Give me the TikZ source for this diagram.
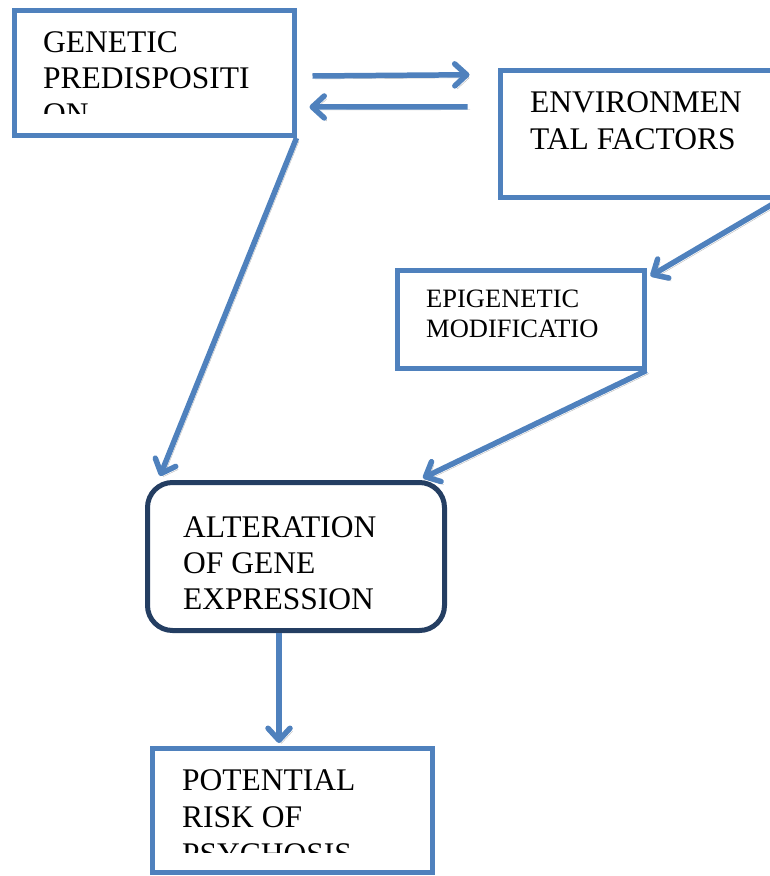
\documentclass[tikz,border=0pt]{standalone}
\usepackage{fontspec}
\setmainfont{Liberation Serif}
\usetikzlibrary{arrows.meta,calc}
\definecolor{boxblue}{RGB}{79,129,189}
\definecolor{navy}{RGB}{36,62,98}
\definecolor{shade}{RGB}{185,185,185}
\begin{document}
\begin{tikzpicture}[x=1pt,y=-1pt,
  box/.style={draw=boxblue, line width=5pt, fill=white, inner sep=0pt, rectangle},
  rbox/.style={draw=navy, line width=5pt, fill=white, rounded corners=25pt, inner sep=0pt, rectangle},
  big/.style={font=\fontsize{31.5}{36}\selectfont, anchor=base west, inner sep=0pt},
  small/.style={font=\fontsize{26.5}{30}\selectfont, anchor=base west, inner sep=0pt},
  arr/.style={draw=boxblue, line width=5.5pt, -{Straight Barb[round,length=12pt,width=22pt]},
    preaction={draw=shade, transform canvas={shift={(2.5pt,-3pt)}}}}]
\useasboundingbox (0,0) rectangle (769,876);
% boxes
\node[box, minimum width=279.5pt, minimum height=125pt] (gen) at (154.25,73) {};
\node[box, minimum width=278pt, minimum height=126.5pt] (env) at (639,133.75) {};
\node[box, minimum width=246.5pt, minimum height=97.5pt] (epi) at (520.75,319.25) {};
\node[rbox, minimum width=297pt, minimum height=148pt] (alt) at (296,556.5) {};
\node[box, minimum width=280pt, minimum height=124pt] (pot) at (292.5,810.5) {};
% texts
\node[big] (g1) at (43,52) {GENETIC};
\node[big] (g2) at (43,88) {PREDISPOSITI};
\begin{scope}
  \clip (20,90) rectangle (290,113);
  \node[big] (g3) at (43,124) {ON};
\end{scope}
\node[big] (e1) at (530,112) {ENVIRONMEN};
\node[big] (e2) at (530,149) {TAL FACTORS};
\node[small] (p1) at (426,307) {EPIGENETIC};
\node[small] (p2) at (426,337) {MODIFICATIO};
\node[big] (a1) at (183,537) {ALTERATION};
\node[big] (a2) at (183,573) {OF GENE};
\node[big] (a3) at (183,609) {EXPRESSION};
\node[big] (r1) at (182,790) {POTENTIAL};
\node[big] (r2) at (182,827) {RISK OF};
\begin{scope}
  \clip (160,830) rectangle (425,852);
  \node[big] (r3) at (182,864) {PSYCHOSIS};
\end{scope}
% connectors
\draw[arr] ($(gen.east)+(16,3)$) -- ($(env.west)+(-28,-59)$);
\draw[arr] ($(env.west)+(-30,-27)$) -- ($(gen.east)+(13,34)$);
\draw[arr] (gen.south east) -- ($(alt.north west)+(15,-4)$);
\draw[arr] (env.south east) -- ($(epi.north east)+(4,8)$);
\draw[arr] (epi.south east) -- ($(alt.north east)+(-24,-2)$);
\draw[arr] ($(alt.south)+(-17,0)$) -- ($(pot.north)+(-13.5,-3)$);
\end{tikzpicture}
\end{document}
